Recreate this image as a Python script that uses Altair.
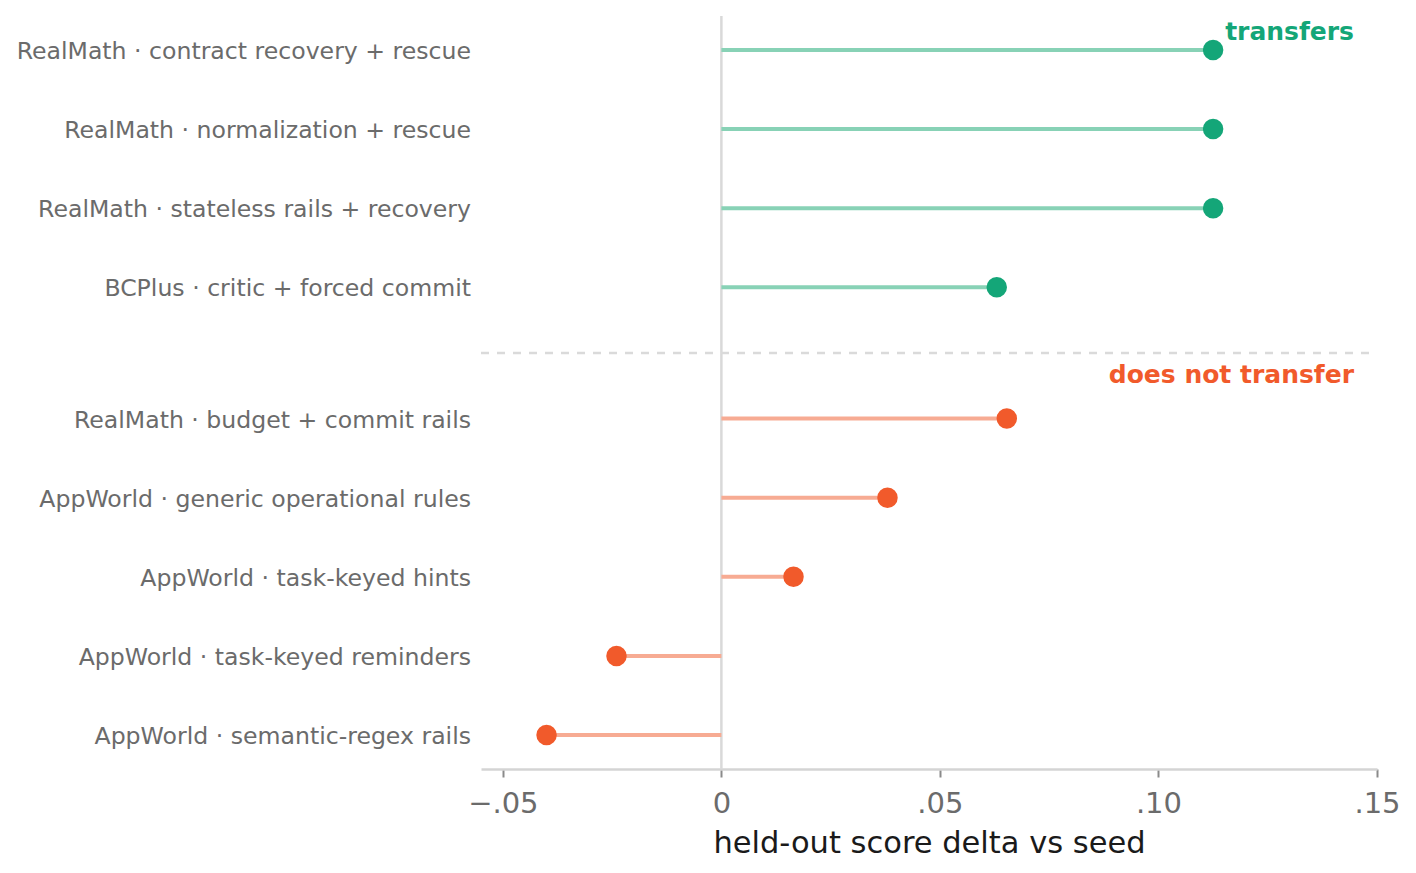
import altair as alt
import pandas as pd

# ---- data ----
top_labels = [
    "RealMath · contract recovery + rescue",
    "RealMath · normalization + rescue",
    "RealMath · stateless rails + recovery",
    "BCPlus · critic + forced commit",
]
top_values = [0.1125, 0.1125, 0.1125, 0.063]

bottom_labels = [
    "RealMath · budget + commit rails",
    "AppWorld · generic operational rules",
    "AppWorld · task-keyed hints",
    "AppWorld · task-keyed reminders",
    "AppWorld · semantic-regex rails",
]
bottom_values = [0.0653, 0.038, 0.0165, -0.024, -0.040]

group_names = ["transfers", "does not transfer"]
x_ticks = [-0.05, 0.0, 0.05, 0.10, 0.15]
x_title = "held-out score delta vs seed"

# ---- layout helpers (row order, gap between groups) ----
GAP = 1.66
rows = []
for i, (lab, v) in enumerate(zip(top_labels, top_values)):
    rows.append({"label": lab, "delta": v, "group": group_names[0], "pos": i})
for j, (lab, v) in enumerate(zip(bottom_labels, bottom_values)):
    rows.append({"label": lab, "delta": v, "group": group_names[1],
                 "pos": len(top_labels) - 1 + GAP + j})
df = pd.DataFrame(rows)
sep_pos = len(top_labels) - 1 + GAP / 2
last_pos = df["pos"].max()

W, H = 896, 753
FONT = "DejaVu Sans"
GREEN, ORANGE = "#14a678", "#f15a2b"
GREEN_L, ORANGE_L = "#88d2b6", "#f7ab93"

xscale = alt.Scale(domain=[-0.055, 0.15], nice=False, zero=False)
yscale = alt.Scale(domain=[-0.43, last_pos + 0.43], reverse=True, nice=False, zero=False)

base = alt.Chart(df)

xaxis = alt.Axis(
    values=x_ticks,
    labelExpr="datum.value == 0 ? '0' : replace(format(datum.value, '.2f'), '0.', '.')",
    grid=False, domainColor="#d4d4d4", domainWidth=2.5,
    tickColor="#8a8a8a", tickWidth=2, tickSize=8,
    labelFont=FONT, labelFontSize=29, labelColor="#6b6b6b", labelPadding=12,
    labelFlush=False, labelOverlap=False,
    title=x_title, titleFont=FONT, titleFontSize=30.5, titleFontWeight="normal",
    titleColor="#1a1a1a", titlePadding=10,
)

zero_rule = alt.Chart(pd.DataFrame({"z": [0.0]})).mark_rule(
    color="#d9d9d9", strokeWidth=2.5
).encode(x=alt.X("z:Q", scale=xscale, axis=xaxis))

sep_rule = alt.Chart(pd.DataFrame({"s": [sep_pos]})).mark_rule(
    color="#dadada", strokeWidth=2.5, strokeDash=[8, 8], strokeDashOffset=8
).encode(y=alt.Y("s:Q", scale=yscale, axis=None))

stems = base.mark_rule(strokeWidth=4).encode(
    x=alt.X("delta:Q", scale=xscale),
    x2=alt.datum(0),
    y=alt.Y("pos:Q", scale=yscale, axis=None),
    color=alt.Color("group:N", scale=alt.Scale(domain=group_names, range=[GREEN_L, ORANGE_L]), legend=None),
)

dots = base.mark_circle(size=420, opacity=1).encode(
    x=alt.X("delta:Q", scale=xscale),
    y=alt.Y("pos:Q", scale=yscale, axis=None),
    fill=alt.Fill("group:N", scale=alt.Scale(domain=group_names, range=[GREEN, ORANGE]), legend=None),
)

labels = base.mark_text(align="right", baseline="middle", font=FONT, fontSize=23.6, color="#6b6b6b", dy=2).encode(
    x=alt.value(-10),
    y=alt.Y("pos:Q", scale=yscale, axis=None),
    text="label:N",
)

ann_df = pd.DataFrame({
    "text": group_names,
    "pos": [-0.23, sep_pos + 0.28],
    "group": group_names,
})
ann = alt.Chart(ann_df).mark_text(align="right", baseline="middle", font=FONT, fontSize=25, fontWeight="bold").encode(
    x=alt.value(W - 23),
    y=alt.Y("pos:Q", scale=yscale, axis=None),
    text="text:N",
    color=alt.Color("group:N", scale=alt.Scale(domain=group_names, range=[GREEN, ORANGE]), legend=None),
)

chart = alt.layer(zero_rule, sep_rule, stems, dots, labels, ann).resolve_scale(
    color="independent"
).properties(
    width=W, height=H,
    padding={"left": 8, "top": 6, "right": 5, "bottom": 5},
).configure(background="white").configure_view(stroke=None, strokeWidth=0)

chart.save("out.html", embed_options={"renderer": "svg", "actions": False})
